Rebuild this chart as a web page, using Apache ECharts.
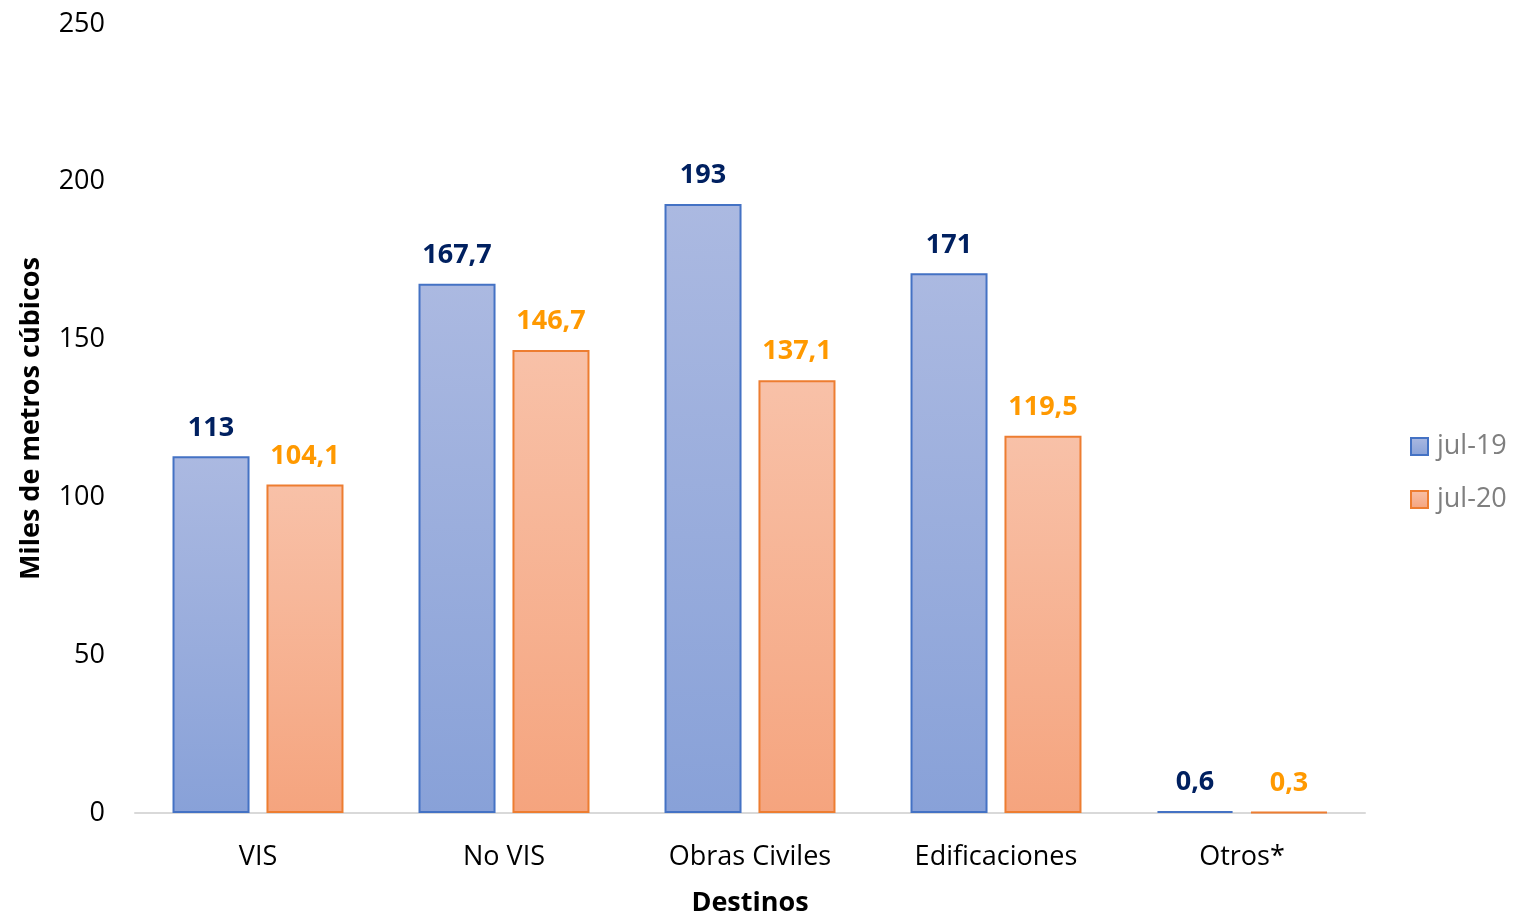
<!DOCTYPE html>
<html>
<head>
<meta charset="utf-8">
<script src="https://cdn.jsdelivr.net/npm/echarts@6/dist/echarts.min.js"></script>
<style>
  html, body { margin: 0; padding: 0; background: #fff; }
  #chart { width: 1516px; height: 914px; }
</style>
</head>
<body>
<div id="chart"></div>
<script>
var destinos = ['VIS', 'No VIS', 'Obras Civiles', 'Edificaciones', 'Otros*'];
var jul19 = [113, 167.7, 193, 171, 0.6];
var jul20 = [104.1, 146.7, 137.1, 119.5, 0.3];

var fuente = '"Open Sans", "Noto Sans", sans-serif';
var coma = function (p) { return String(p.value).replace('.', ','); };

var chart = echarts.init(document.getElementById('chart'));
chart.setOption({
    textStyle: { fontFamily: fuente },
    grid: { left: 135, right: 151, top: 24, bottom: 101, outerBoundsMode: 'none', containLabel: false },
    legend: {
        orient: 'vertical',
        left: 1405,
        top: 428,
        itemWidth: 17,
        itemHeight: 17,
        itemGap: 26,
        icon: 'rect',
        textStyle: { fontSize: 27, color: '#7f7f7f', fontFamily: fuente, padding: [0, 0, 0, 4] }
    },
    xAxis: {
        type: 'category',
        data: destinos,
        name: 'Destinos',
        nameLocation: 'middle',
        nameGap: 77,
        nameTextStyle: { fontSize: 27, fontWeight: 'bold', color: '#000' },
        axisLine: { lineStyle: { color: '#d9d9d9', width: 2 } },
        axisTick: { show: false },
        axisLabel: { fontSize: 27, color: '#000', margin: 31 }
    },
    yAxis: {
        type: 'value',
        min: 0,
        max: 250,
        interval: 50,
        name: 'Miles de metros cúbicos',
        nameLocation: 'middle',
        nameGap: 90,
        nameTextStyle: { fontSize: 27, fontWeight: 'bold', color: '#000' },
        splitLine: { show: false },
        axisLine: { show: false },
        axisTick: { show: false },
        axisLabel: { fontSize: 27, color: '#000', margin: 30 }
    },
    series: [
        {
            name: 'jul-19',
            type: 'bar',
            data: jul19,
            barGap: '22%',
            barCategoryGap: '30.5%',
            itemStyle: {
                color: new echarts.graphic.LinearGradient(0, 0, 0, 1, [
                    { offset: 0, color: '#abb9e1' },
                    { offset: 1, color: '#88a1d8' }
                ]),
                borderColor: '#4472c4',
                borderWidth: 2
            },
            label: {
                show: true,
                position: 'top',
                distance: 15,
                formatter: coma,
                fontSize: 27,
                fontWeight: 'bold',
                color: '#002060'
            }
        },
        {
            name: 'jul-20',
            type: 'bar',
            data: jul20,
            itemStyle: {
                color: new echarts.graphic.LinearGradient(0, 0, 0, 1, [
                    { offset: 0, color: '#f8c1a8' },
                    { offset: 1, color: '#f5a47e' }
                ]),
                borderColor: '#ed7d31',
                borderWidth: 2
            },
            label: {
                show: true,
                position: 'top',
                distance: 15,
                formatter: coma,
                fontSize: 27,
                fontWeight: 'bold',
                color: '#ff9900'
            }
        }
    ]
});
</script>
</body>
</html>
